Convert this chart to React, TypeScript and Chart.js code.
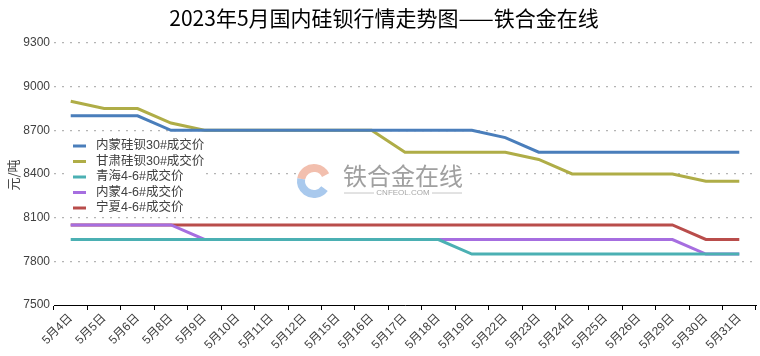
import React, { useEffect, useRef } from 'react';
import { Chart, registerables } from 'chart.js';

Chart.register(...registerables);

const categories = ['5月4日', '5月5日', '5月6日', '5月8日', '5月9日', '5月10日', '5月11日', '5月12日', '5月15日', '5月16日', '5月17日', '5月18日', '5月19日', '5月22日', '5月23日', '5月24日', '5月25日', '5月26日', '5月29日', '5月30日', '5月31日'];

const neimengSiBa30 = [8800, 8800, 8800, 8700, 8700, 8700, 8700, 8700, 8700, 8700, 8700, 8700, 8700, 8650, 8550, 8550, 8550, 8550, 8550, 8550, 8550];
const gansuSiBa30 = [8900, 8850, 8850, 8750, 8700, 8700, 8700, 8700, 8700, 8700, 8550, 8550, 8550, 8550, 8500, 8400, 8400, 8400, 8400, 8350, 8350];
const qinghai46 = [7950, 7950, 7950, 7950, 7950, 7950, 7950, 7950, 7950, 7950, 7950, 7950, 7850, 7850, 7850, 7850, 7850, 7850, 7850, 7850, 7850];
const neimeng46 = [8050, 8050, 8050, 8050, 7950, 7950, 7950, 7950, 7950, 7950, 7950, 7950, 7950, 7950, 7950, 7950, 7950, 7950, 7950, 7850, 7850];
const ningxia46 = [8050, 8050, 8050, 8050, 8050, 8050, 8050, 8050, 8050, 8050, 8050, 8050, 8050, 8050, 8050, 8050, 8050, 8050, 8050, 7950, 7950];

const seriesNames = ['内蒙硅钡30#成交价', '甘肃硅钡30#成交价', '青海4-6#成交价', '内蒙4-6#成交价', '宁夏4-6#成交价'];
const seriesColors = ['#4a7ebb', '#afad47', '#4bb0b3', '#a66ee0', '#b94d4b'];

const yMin = 7500;
const yMax = 9300;
const yStep = 300;

const titleText = '2023年5月国内硅钡行情走势图——铁合金在线';
const yTitle = '元/吨';

const FONT = "'Liberation Sans', 'Noto Sans CJK SC', sans-serif";
const CJK = "'Noto Sans CJK SC', sans-serif";

const overlayPlugin = {
  id: 'overlay',
  beforeDatasetsDraw(chart: any) {
    const ctx = chart.ctx as CanvasRenderingContext2D;
    ctx.save();
    // watermark
    ctx.fillStyle = '#ffffff';
    ctx.fillRect(296, 160, 168, 40);
    ctx.lineCap = 'butt';
    ctx.lineWidth = 8;
    const cx = 314, cy = 181, r = 13;
    ctx.strokeStyle = 'rgba(240,180,160,0.85)';
    ctx.beginPath();
    ctx.arc(cx, cy, r, Math.PI * 1.05, Math.PI * 1.85);
    ctx.stroke();
    ctx.strokeStyle = 'rgba(160,195,235,0.9)';
    ctx.beginPath();
    ctx.arc(cx, cy, r, Math.PI * 0.2, Math.PI * 1.05);
    ctx.stroke();
    ctx.fillStyle = '#a0a0a0';
    ctx.font = `24px ${CJK}`;
    ctx.textAlign = 'left';
    ctx.textBaseline = 'middle';
    ctx.fillText('铁合金在线', 343, 176);
    ctx.font = `8px ${FONT}`;
    ctx.fillStyle = '#a8a8a8';
    ctx.textAlign = 'center';
    ctx.fillText('CNFEOL.COM', 403, 193);
    ctx.strokeStyle = '#b8b8b8';
    ctx.lineWidth = 0.8;
    ctx.beginPath();
    ctx.moveTo(344, 193); ctx.lineTo(374, 193);
    ctx.moveTo(432, 193); ctx.lineTo(462, 193);
    ctx.stroke();

    // legend
    ctx.fillStyle = '#ffffff';
    ctx.fillRect(70, 137, 130, 78);
    const ys = [146, 161.5, 177, 192.5, 208];
    ctx.font = `12.5px ${FONT}`;
    ctx.textAlign = 'left';
    ctx.textBaseline = 'middle';
    ctx.lineWidth = 3;
    for (let i = 0; i < seriesNames.length; i++) {
      ctx.strokeStyle = seriesColors[i];
      ctx.beginPath();
      ctx.moveTo(73, ys[i]);
      ctx.lineTo(86, ys[i]);
      ctx.stroke();
      ctx.fillStyle = '#404040';
      ctx.fillText(seriesNames[i], 96, ys[i]);
    }
    ctx.restore();
  },
  afterDraw(chart: any) {
    const ctx = chart.ctx as CanvasRenderingContext2D;
    ctx.save();
    ctx.fillStyle = '#000000';
    ctx.font = `21px ${CJK}`;
    ctx.textAlign = 'center';
    ctx.textBaseline = 'middle';
    ctx.fillText(titleText, 384, 18);
    ctx.translate(13, 175);
    ctx.rotate(-Math.PI / 2);
    ctx.fillStyle = '#404040';
    ctx.font = `13px ${CJK}`;
    ctx.fillText(yTitle, 0, 0);
    ctx.restore();
  },
};

export default function App() {
  const ref = useRef<HTMLCanvasElement | null>(null);
  useEffect(() => {
    if (!ref.current) return;
    const chart = new Chart(ref.current, {
      type: 'line',
      data: {
        labels: categories,
        datasets: [neimengSiBa30, gansuSiBa30, qinghai46, neimeng46, ningxia46].map((d, i) => ({
          label: seriesNames[i],
          data: d,
          borderColor: seriesColors[i],
          backgroundColor: seriesColors[i],
          borderWidth: 3,
          pointRadius: 0,
          tension: 0,
          fill: false,
        })),
      },
      options: {
        animation: false,
        responsive: false,
        maintainAspectRatio: false,
        layout: { padding: { top: 43, right: 4, left: 0, bottom: 0 } },
        plugins: {
          legend: { display: false },
          title: { display: false },
          tooltip: { enabled: false },
        },
        scales: {
          x: {
            offset: true,
            afterFit: (s: any) => { s.height = 51; },
            grid: {
              offset: true,
              drawOnChartArea: false,
              drawTicks: true,
              tickLength: 5,
              color: '#000000',
            },
            border: { display: true, color: '#000000', width: 1 },
            ticks: {
              autoSkip: false,
              maxRotation: 45,
              minRotation: 45,
              padding: 1,
              color: '#404040',
              font: { size: 12, family: FONT },
            },
          },
          y: {
            min: yMin,
            max: yMax,
            afterFit: (s: any) => { s.width = 54; },
            border: { display: false, dash: [2, 6] },
            grid: {
              drawTicks: false,
              color: (c: any) => (c.tick && c.tick.value === yMin ? 'rgba(0,0,0,0)' : '#b4b4b4'),
              lineWidth: 1.2,
            },
            ticks: {
              stepSize: yStep,
              padding: 4,
              color: '#404040',
              font: { size: 12, family: FONT },
              callback: (v: any) => String(v),
            },
          },
        },
      },
      plugins: [overlayPlugin],
    } as any);
    return () => chart.destroy();
  }, []);
  return (
    <div style={{ position: 'fixed', left: 0, top: 0, width: 760, height: 356, background: '#fff' }}>
      <canvas ref={ref} width={760} height={356} style={{ width: 760, height: 356, display: 'block' }} />
    </div>
  );
}
